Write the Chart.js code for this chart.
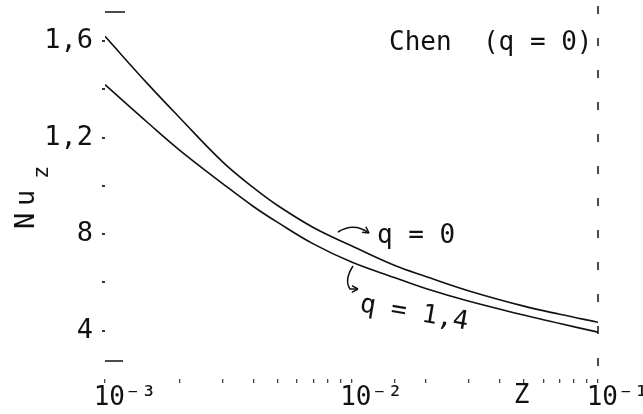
<!DOCTYPE html>
<html lang="en">
<head>
  <meta charset="UTF-8" />
  <title>Nu_z versus Z</title>
  <script src="https://cdn.jsdelivr.net/npm/chart.js"></script>
  <style>
    body { margin: 0; background: #fff; }
    canvas { display: block; }
  </style>
</head>
<body>
  <canvas id="chart" width="643" height="414"></canvas>

  <script>
    // values
    const zValues = [0.001, 0.0015, 0.002, 0.003, 0.004, 0.005, 0.007, 0.01, 0.015, 0.02, 0.03, 0.05, 0.07, 0.1];
    const nuQ0 = [16.2, 14.2, 12.85, 11.0, 9.93, 9.2, 8.28, 7.52, 6.7, 6.25, 5.65, 5.02, 4.68, 4.35];
    const nuQ14 = [14.2, 12.6, 11.5, 10.1, 9.15, 8.5, 7.6, 6.85, 6.2, 5.75, 5.22, 4.65, 4.3, 3.94];
    const seriesNames = ["q = 0", "q = 1,4"];

    const yTickValues = [4, 6, 8, 10, 12, 14, 16];
    const yTickLabels = ["4", "", "8", "", "1,2", "", "1,6"];
    const xTickValues = [0.001, 0.01, 0.1];
    const xTickLabels = ["10\u207B\u00B3", "10\u207B\u00B2", "10\u207B\u00B9"];

    const FONT = "'DejaVu Sans Mono', monospace";
    const INK = "#111";

    function points(ys) {
      return zValues.map((z, i) => ({ x: z, y: ys[i] }));
    }

    function arrowHead(ctx, x, y, ang) {
      ctx.beginPath();
      ctx.moveTo(x, y);
      ctx.lineTo(x - 7 * Math.cos(ang - 0.5), y - 7 * Math.sin(ang - 0.5));
      ctx.moveTo(x, y);
      ctx.lineTo(x - 7 * Math.cos(ang + 0.5), y - 7 * Math.sin(ang + 0.5));
      ctx.stroke();
    }

    const decor = {
      id: "decor",
      afterDraw(chart) {
        const { ctx, chartArea: a, scales } = chart;
        ctx.save();
        ctx.strokeStyle = INK;
        ctx.fillStyle = INK;
        ctx.lineWidth = 1.5;

        // broken frame pieces
        ctx.setLineDash([8, 24]);
        ctx.beginPath();
        ctx.moveTo(a.right, 6);
        ctx.lineTo(a.right, a.bottom);
        ctx.stroke();
        ctx.setLineDash([]);
        ctx.beginPath();
        ctx.moveTo(a.left, 12);
        ctx.lineTo(a.left + 20, 12);
        ctx.moveTo(a.left, 361);
        ctx.lineTo(a.left + 18, 361);
        ctx.stroke();

        ctx.font = "26px " + FONT;
        ctx.textBaseline = "alphabetic";
        ctx.textAlign = "left";
        ctx.fillText("Chen  (q = 0)", 389, 50);

        // q = 0 label with curved arrow
        ctx.fillText(seriesNames[0], 377, 243);
        ctx.beginPath();
        ctx.moveTo(338, 232);
        ctx.quadraticCurveTo(354, 222, 369, 233);
        ctx.stroke();
        arrowHead(ctx, 369, 233, 0.6);

        // q = 1,4 label, tilted
        ctx.save();
        ctx.translate(359, 311);
        ctx.rotate(0.17);
        ctx.fillText(seriesNames[1], 0, 0);
        ctx.restore();
        ctx.beginPath();
        ctx.moveTo(353, 266);
        ctx.quadraticCurveTo(344, 280, 350, 289);
        ctx.lineTo(358, 289);
        ctx.stroke();
        arrowHead(ctx, 358, 289, 0);

        // axis title Z
        ctx.textAlign = "center";
        ctx.fillText("Z", scales.x.getPixelForValue(0.049), 403);

        // y title Nu with subscript z
        ctx.save();
        ctx.translate(34, 229);
        ctx.rotate(-Math.PI / 2);
        ctx.textAlign = "left";
        ctx.font = "27px " + FONT;
        ctx.fillText("N", 0, 0);
        ctx.fillText("u", 23, 0);
        ctx.font = "22px " + FONT;
        ctx.fillText("z", 50, 14);
        ctx.restore();

        ctx.restore();
      }
    };

    new Chart(document.getElementById("chart"), {
      type: "line",
      data: {
        datasets: [
          { label: seriesNames[0], data: points(nuQ0) },
          { label: seriesNames[1], data: points(nuQ14) }
        ]
      },
      options: {
        responsive: false,
        animation: false,
        events: [],
        layout: { padding: { top: 15, right: 45, left: 0, bottom: 0 } },
        elements: {
          line: { borderColor: INK, borderWidth: 1.6, tension: 0.4, fill: false },
          point: { radius: 0 }
        },
        plugins: { legend: { display: false }, tooltip: { enabled: false } },
        scales: {
          x: {
            type: "logarithmic",
            min: 0.001,
            max: 0.1,
            border: { display: false },
            grid: { drawOnChartArea: false, drawTicks: true, tickLength: 4, color: "#444", lineWidth: 1.3 },
            ticks: {
              autoSkip: false,
              maxRotation: 0,
              padding: 0,
              labelOffset: 20,
              color: INK,
              font: { family: FONT, size: 26 },
              callback: (v) => {
                const i = xTickValues.findIndex(t => Math.abs(t - v) / t < 1e-6);
                return i >= 0 ? xTickLabels[i] : "";
              }
            },
            afterFit: (s) => { s.height = 35; }
          },
          y: {
            min: 2,
            max: 17,
            border: { display: false },
            grid: { drawOnChartArea: false, drawTicks: true, tickLength: 3, color: "#333", lineWidth: 2 },
            afterBuildTicks: (s) => { s.ticks = yTickValues.map(v => ({ value: v })); },
            ticks: {
              padding: 9,
              color: INK,
              font: { family: FONT, size: 27, lineHeight: 0.6 },
              callback: (v) => yTickLabels[yTickValues.indexOf(v)] ?? ""
            },
            afterFit: (s) => { s.width = 105; }
          }
        }
      },
      plugins: [decor]
    });
  </script>
</body>
</html>
